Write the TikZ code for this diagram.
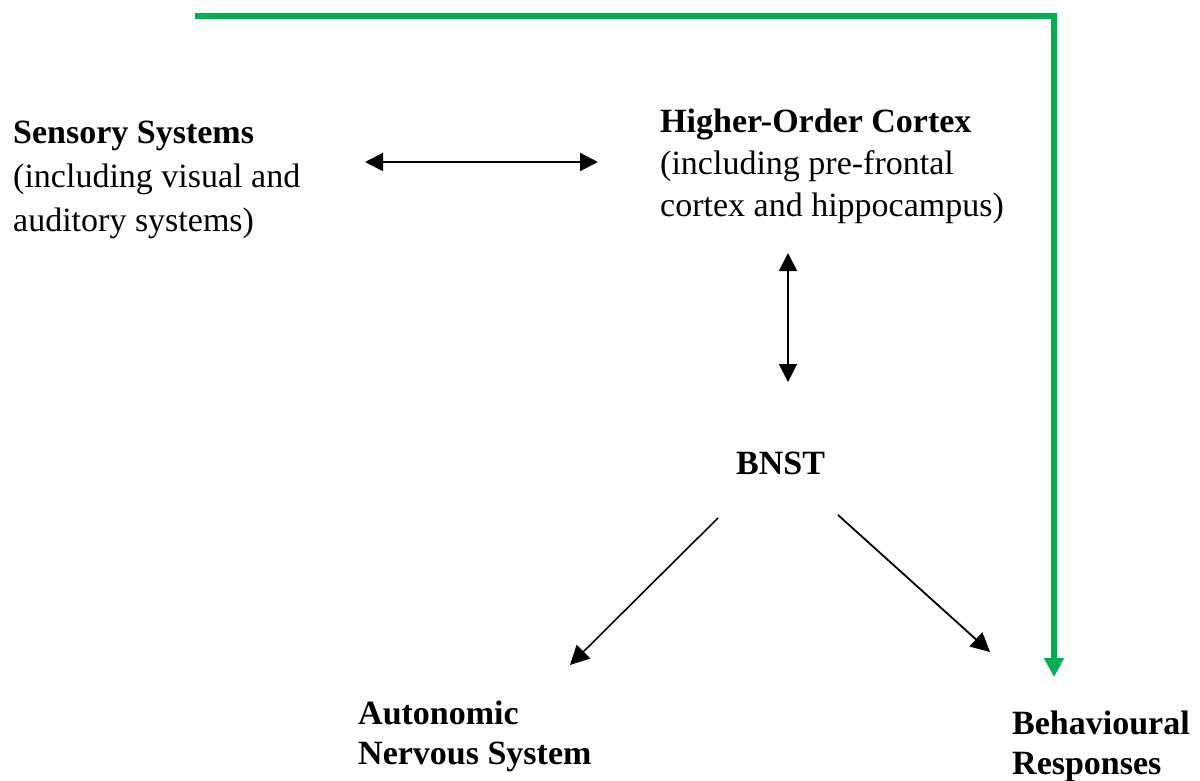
\documentclass[tikz,border=0pt]{standalone}
\usepackage{fontspec}
\setmainfont{Liberation Serif}
\usetikzlibrary{arrows.meta}
\definecolor{fbgreen}{RGB}{0,176,80}
\tikzset{
  lbl/.style={anchor=north west, inner sep=0pt, align=left,
              font=\fontsize{34}{42}\selectfont},
  hd/.style={anchor=north west, inner sep=0pt, align=left,
             font=\fontsize{34}{40}\selectfont\bfseries},
  link/.style={line width=2pt,
               {Triangle[length=18pt,width=18pt]}-{Triangle[length=18pt,width=18pt]}},
  flow/.style={line width=1.8pt, -{Triangle[length=19pt,width=19pt]}},
  fb/.style={line width=6pt, draw=fbgreen, line join=miter,
             -{Triangle[length=19pt,width=19pt]}}
}
\begin{document}
\begin{tikzpicture}[x=1pt,y=-1pt]
  \useasboundingbox (0,0) rectangle (1200,781);

  % labels
  \node[lbl, font=\fontsize{34}{44}\selectfont] (sens) at (13,121)
    {\textbf{Sensory Systems}\\(including visual and\\auditory systems)};
  \node[lbl] (cort) at (660,109)
    {\textbf{Higher-Order Cortex}\\(including pre-frontal\\cortex and hippocampus)};
  \node[hd] (bnst) at (736,452) {BNST};
  \node[hd] (ans) at (358,701) {Autonomic\\Nervous System};
  \node[hd] (beh) at (1012,711) {Behavioural\\Responses};

  % connector end points
  \coordinate (sensR) at (365,162);
  \coordinate (cortL) at (598,162);
  \coordinate (cortB) at (788,253);
  \coordinate (bnstT) at (788,382);
  \coordinate (bnstL) at (718,518);
  \coordinate (ansT) at (570,665);
  \coordinate (bnstR) at (838,515);
  \coordinate (behT) at (990,652);
  \coordinate (fbStart) at (195,16);
  \coordinate (fbCorner) at (1054,16);
  \coordinate (fbEnd) at (1054,677);

  % connectors
  \draw[link] (sensR) -- (cortL);
  \draw[link] (cortB) -- (bnstT);
  \draw[flow, line width=1.6pt] (bnstL) -- (ansT);
  \draw[flow] (bnstR) -- (behT);
  \draw[fb] (fbStart) -- (fbCorner) -- (fbEnd);
\end{tikzpicture}
\end{document}
